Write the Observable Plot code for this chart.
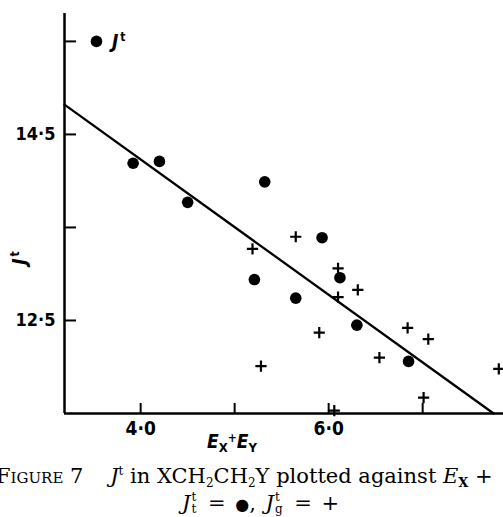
<!DOCTYPE html>
<html>
<head>
<meta charset="utf-8">
<script src="https://cdn.jsdelivr.net/npm/d3@7"></script>
<script src="https://cdn.jsdelivr.net/npm/@observablehq/plot@0.6"></script>
<style>
  html, body { margin: 0; padding: 0; background: #fff; }
  body { width: 503px; height: 517px; overflow: hidden; position: relative; }
  #chart { position: absolute; left: 0; top: 0; }
  .sans { font-family: "Liberation Sans Narrow", "DejaVu Sans Condensed", sans-serif; font-weight: bold; color: #000; }
  .abs { position: absolute; white-space: nowrap; line-height: 1; }
  .serif { font-family: "DejaVu Serif", "Liberation Serif", serif; font-size: 21px; color: #000; }
  .sc { font-variant: small-caps; }
  .stack { display: inline-flex; flex-direction: column; vertical-align: middle; font-size: 12px; line-height: 1; margin-left: 1px; margin-right: 2px; font-style: normal; position: relative; top: -1px; }
</style>
</head>
<body>
<div id="chart"></div>
<script>
// ---- data ----
const xTicks = [4, 5, 6, 7];
const xTickLabels = ["4·0", "", "6·0", ""];
const yTicks = [12.5, 13.5, 14.5, 15.5];
const yTickLabels = ["12·5", "", "14·5", ""];

// J_t (filled circles)
const jtX = [3.92, 4.20, 4.50, 5.32, 5.21, 5.65, 5.93, 6.12, 6.30, 6.85];
const jtY = [14.19, 14.21, 13.77, 13.99, 12.94, 12.74, 13.39, 12.96, 12.45, 12.06];

// J_g (plus signs)
const jgX = [5.19, 5.65, 6.10, 6.10, 6.31, 5.90, 5.28, 6.54, 6.84, 7.06, 7.01, 7.81, 6.06];
const jgY = [13.27, 13.40, 13.06, 12.75, 12.83, 12.37, 12.01, 12.10, 12.42, 12.30, 11.67, 11.98, 11.53];

// fitted line end points
const fitX = [3.19, 7.755];
const fitY = [14.82, 11.5];

// legend marker
const legendX = [3.53];
const legendY = [15.5];

const xDomain = [3.19, 7.86];
const yDomain = [11.5, 15.8];

const jt = jtX.map((x, i) => ({x, y: jtY[i]}));
const jg = jgX.map((x, i) => ({x, y: jgY[i]}));
const fit = fitX.map((x, i) => ({x, y: fitY[i]}));
const legend = legendX.map((x, i) => ({x, y: legendY[i]}));

const chart = Plot.plot({
  width: 503,
  height: 452,
  marginLeft: 64,
  marginRight: 0,
  marginTop: 13,
  marginBottom: 39,
  x: {domain: xDomain, label: null},
  y: {domain: yDomain, label: null},
  style: {
    fontFamily: '"Liberation Sans Narrow", "DejaVu Sans Condensed", sans-serif',
    fontWeight: "bold",
    fontSize: "18px",
    color: "#000",
    background: "#fff",
    overflow: "visible"
  },
  marks: [
    Plot.ruleX([xDomain[0]], {y1: yDomain[0], y2: yDomain[1], stroke: "#000", strokeWidth: 2.5}),
    Plot.ruleY([yDomain[0]], {stroke: "#000", strokeWidth: 2.5}),
    Plot.axisY(yTicks, {tickSize: 12, dx: 12, text: null, strokeWidth: 2}),
    Plot.axisY(yTicks, {tickSize: 0, tickPadding: 9, fontSize: 18, tickFormat: d => yTickLabels[yTicks.indexOf(d)]}),
    Plot.axisX(xTicks, {tickSize: 10, dy: -10, text: null, strokeWidth: 2}),
    Plot.axisX(xTicks, {tickSize: 0, tickPadding: 8, fontSize: 19, tickFormat: d => xTickLabels[xTicks.indexOf(d)]}),
    Plot.line(fit, {x: "x", y: "y", stroke: "#000", strokeWidth: 2.3}),
    Plot.dot(jt, {x: "x", y: "y", r: 5.8, fill: "#000"}),
    Plot.dot(jg, {x: "x", y: "y", r: 3.7, symbol: "plus", stroke: "#000", strokeWidth: 2.2}),
    Plot.dot(legend, {x: "x", y: "y", r: 5.8, fill: "#000"})
  ]
});
document.getElementById("chart").append(chart);
</script>

<!-- legend label -->
<div class="abs sans" style="left:112px; top:31px; font-size:19px; font-style:italic;">J<sup style="font-size:12px; font-style:normal; vertical-align:7px; margin-left:2px;">t</sup></div>

<!-- y-axis label -->
<div class="abs sans" style="left:12px; top:248px; font-size:19px; font-style:italic; transform: rotate(-90deg); transform-origin: center;">J<sup style="font-size:12px; font-style:normal; vertical-align:7px; margin-left:2px;">t</sup></div>

<!-- x-axis label -->
<div class="abs sans" style="left:207px; top:432px; font-size:19px; font-style:italic;">E<sub style="font-size:13px; font-style:normal; vertical-align:-4px;">X</sub><span style="font-size:12px; font-style:normal; vertical-align:6px;">+</span>E<sub style="font-size:13px; font-style:normal; vertical-align:-4px;">Y</sub></div>

<!-- caption -->
<div class="abs serif" style="left:-4px; top:465px;"><span class="sc">Figure</span> 7&nbsp;&nbsp;&nbsp; <i>J</i><sup style="font-size:12px; vertical-align:8px;">t</sup> in XCH<sub style="font-size:12px; vertical-align:-4px;">2</sub>CH<sub style="font-size:12px; vertical-align:-4px;">2</sub>Y plotted against <i>E</i><sub style="font-size:13px; vertical-align:-4px; font-weight:bold;">X</sub> +</div>
<div class="abs serif" style="left:182px; top:492px; word-spacing:3px;"><i>J</i><span class="stack"><span>t</span><span>t</span></span> = <span style="font-size:16px;">●</span>, <i>J</i><span class="stack"><span>t</span><span>g</span></span> = +</div>
</body>
</html>
